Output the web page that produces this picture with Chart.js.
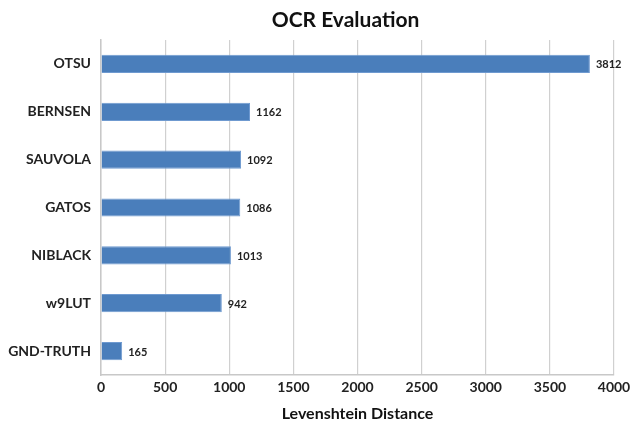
<!DOCTYPE html>
<html>
<head>
<meta charset="utf-8">
<script src="https://cdn.jsdelivr.net/npm/chart.js@4/dist/chart.umd.min.js"></script>
<style>
  html, body { margin: 0; padding: 0; background: #ffffff; }
  #wrap { width: 630px; height: 425px; }
</style>
</head>
<body>
<div id="wrap"><canvas id="chart" width="630" height="425"></canvas></div>
<script>
// Binarization methods and their OCR edit distances
const methods = ["OTSU", "BERNSEN", "SAUVOLA", "GATOS", "NIBLACK", "w9LUT", "GND-TRUTH"];
const distances = [3812, 1162, 1092, 1086, 1013, 942, 165];
const xTicks = [0, 500, 1000, 1500, 2000, 2500, 3000, 3500, 4000];
const chartTitle = "OCR Evaluation";

const FONT = "Lato, 'Open Sans', 'DejaVu Sans', sans-serif";

// Writes each bar's value just past its end
const valueLabels = {
  id: "valueLabels",
  afterDatasetsDraw(chart) {
    const ctx = chart.ctx;
    const meta = chart.getDatasetMeta(0);
    ctx.save();
    ctx.font = "bold 11px " + FONT;
    ctx.fillStyle = "#222222";
    ctx.textAlign = "left";
    ctx.textBaseline = "middle";
    meta.data.forEach((bar, i) => {
      ctx.fillText(String(distances[i]), bar.x + 6, bar.y + 1);
    });
    ctx.restore();
  }
};

// Heading centred a little right of the canvas middle, above the plot
const heading = {
  id: "heading",
  afterDraw(chart) {
    const ctx = chart.ctx;
    const area = chart.chartArea;
    ctx.save();
    ctx.font = "bold 21px " + FONT;
    ctx.fillStyle = "#111111";
    ctx.textAlign = "center";
    ctx.textBaseline = "alphabetic";
    ctx.fillText(chartTitle, (area.left + area.right) / 2 - 12, 27);
    ctx.restore();
  }
};

new Chart(document.getElementById("chart"), {
  type: "bar",
  data: {
    labels: methods,
    datasets: [{
      data: distances,
      backgroundColor: "#4a7ebb",
      borderColor: "#6f9ad0",
      borderWidth: 1,
      categoryPercentage: 0.38,
      barPercentage: 1.0
    }]
  },
  options: {
    indexAxis: "y",
    responsive: false,
    animation: false,
    layout: { padding: { left: 0, right: 0, top: 40, bottom: 0 } },
    plugins: {
      legend: { display: false },
      tooltip: { enabled: false },
      title: { display: false }
    },
    scales: {
      x: {
        min: 0,
        max: 4000,
        afterBuildTicks(axis) {
          axis.ticks = xTicks.map(v => ({ value: v }));
        },
        afterFit(axis) {
          axis.height = 50;
          axis.paddingRight = 16;
          axis.paddingLeft = 0;
        },
        grid: {
          color: "#d0d0d0",
          lineWidth: 1.2,
          drawTicks: false
        },
        border: { color: "#c8c8c8", width: 1.5 },
        ticks: {
          color: "#222222",
          padding: 4,
          font: { family: FONT, size: 14, weight: "bold" },
          callback: v => String(v)
        },
        title: {
          display: true,
          text: "Levenshtein Distance",
          color: "#111111",
          font: { family: FONT, size: 16, weight: "bold" },
          padding: { top: 6, bottom: 2 }
        }
      },
      y: {
        afterFit(axis) { axis.width = 101; },
        grid: { display: false, drawTicks: false },
        border: { color: "#c8c8c8", width: 1.5 },
        ticks: {
          color: "#222222",
          padding: 10,
          font: { family: FONT, size: 14, weight: "bold" }
        }
      }
    }
  },
  plugins: [valueLabels, heading]
});
</script>
</body>
</html>
